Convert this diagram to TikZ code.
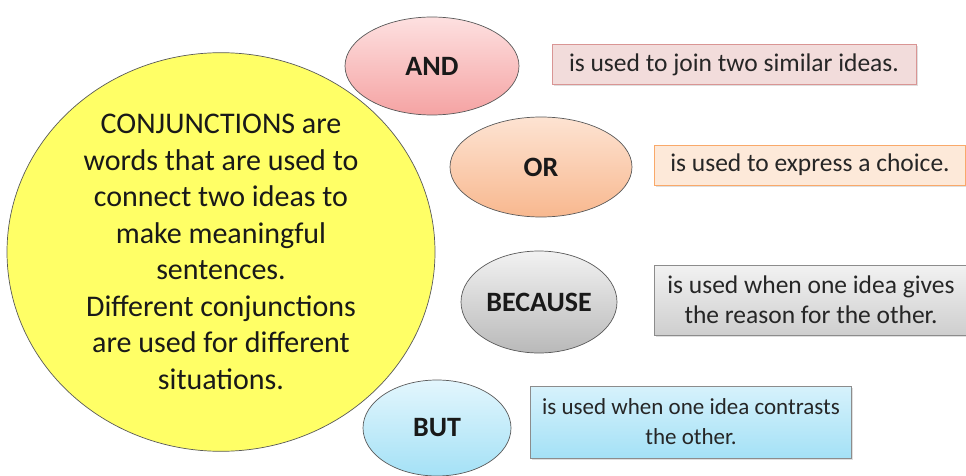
\documentclass[tikz,border=0pt]{standalone}
\usepackage{fontspec}
\setmainfont{Carlito}
\usetikzlibrary{shapes,shadows}

\definecolor{ellyellow}{HTML}{FFFF66}
\definecolor{andtop}{HTML}{FDE0E0}
\definecolor{andbot}{HTML}{F5A3A3}
\definecolor{andfill}{HTML}{F2DCDB}
\definecolor{andline}{HTML}{D99594}
\definecolor{ortop}{HTML}{FDE3D2}
\definecolor{orbot}{HTML}{F8B88F}
\definecolor{orfill}{HTML}{FDE9D9}
\definecolor{orline}{HTML}{F9A96A}
\definecolor{becausetop}{HTML}{F2F2F2}
\definecolor{becausebot}{HTML}{B9B9B9}
\definecolor{buttop}{HTML}{E3F6FD}
\definecolor{butbot}{HTML}{A4E1F6}

\begin{document}
\begin{tikzpicture}[x=1pt, y=-1pt,
    conj/.style={ellipse, draw=black!65, line width=0.7pt, inner sep=0pt,
        font=\fontsize{28}{30}\selectfont\bfseries, text=black!90},
    usebox/.style={rectangle, line width=1pt, inner sep=0pt, align=center,
        font=\fontsize{25.5}{30}\selectfont, text=black!85,
        drop shadow={shadow xshift=1.5pt, shadow yshift=-1.5pt, opacity=0.25}}]
        \def\lineskipmain{36.5}

        \useasboundingbox (0, 0) rectangle (966, 476);

        % main idea
        \node[ellipse, draw=black!65, line width=0.7pt, fill=ellyellow, minimum width=428pt, minimum height=340pt,
              align=center, font=\fontsize{30}{\lineskipmain}\selectfont, text=black!90] (mainidea) at (221, 252)
              {CONJUNCTIONS are\\words that are used to\\connect two ideas to\\make meaningful\\sentences.\\Different conjunctions\\are used for different\\situations.};

        % conjunctions
        \node[conj, top color=andtop, bottom color=andbot, minimum width=174pt, minimum height=98pt] (andw) at (432, 66) {AND};
        \node[conj, top color=ortop, bottom color=orbot, minimum width=182pt, minimum height=100pt] (orw) at (541, 167) {OR};
        \node[conj, top color=becausetop, bottom color=becausebot, minimum width=156pt, minimum height=102pt] (becausew) at (539, 302) {BECAUSE};
        \node[conj, top color=buttop, bottom color=butbot, minimum width=148pt, minimum height=96pt] (butw) at (437, 428) {BUT};

        % meanings
        \node[usebox, draw=andline, fill=andfill, minimum width=364pt, minimum height=40pt] (andbox) at (734, 65)
              {is used to join two similar ideas.};
        \node[usebox, draw=orline, fill=orfill, minimum width=311pt, minimum height=40pt] (orbox) at (810, 165)
              {is used to express a choice.};
        \node[usebox, draw=black!45, top color=becausetop, bottom color=becausebot!70, minimum width=314pt, minimum height=70pt] (becausebox) at (811, 300)
              {is used when one idea gives\\the reason for the other.};
        \node[usebox, draw=black!45, top color=buttop!80!butbot, bottom color=butbot, minimum width=321pt, minimum height=72pt,
              font=\fontsize{23}{30}\selectfont] (butbox) at (691, 422)
              {is used when one idea contrasts\\the other.};
    \end{tikzpicture}
\end{document}
